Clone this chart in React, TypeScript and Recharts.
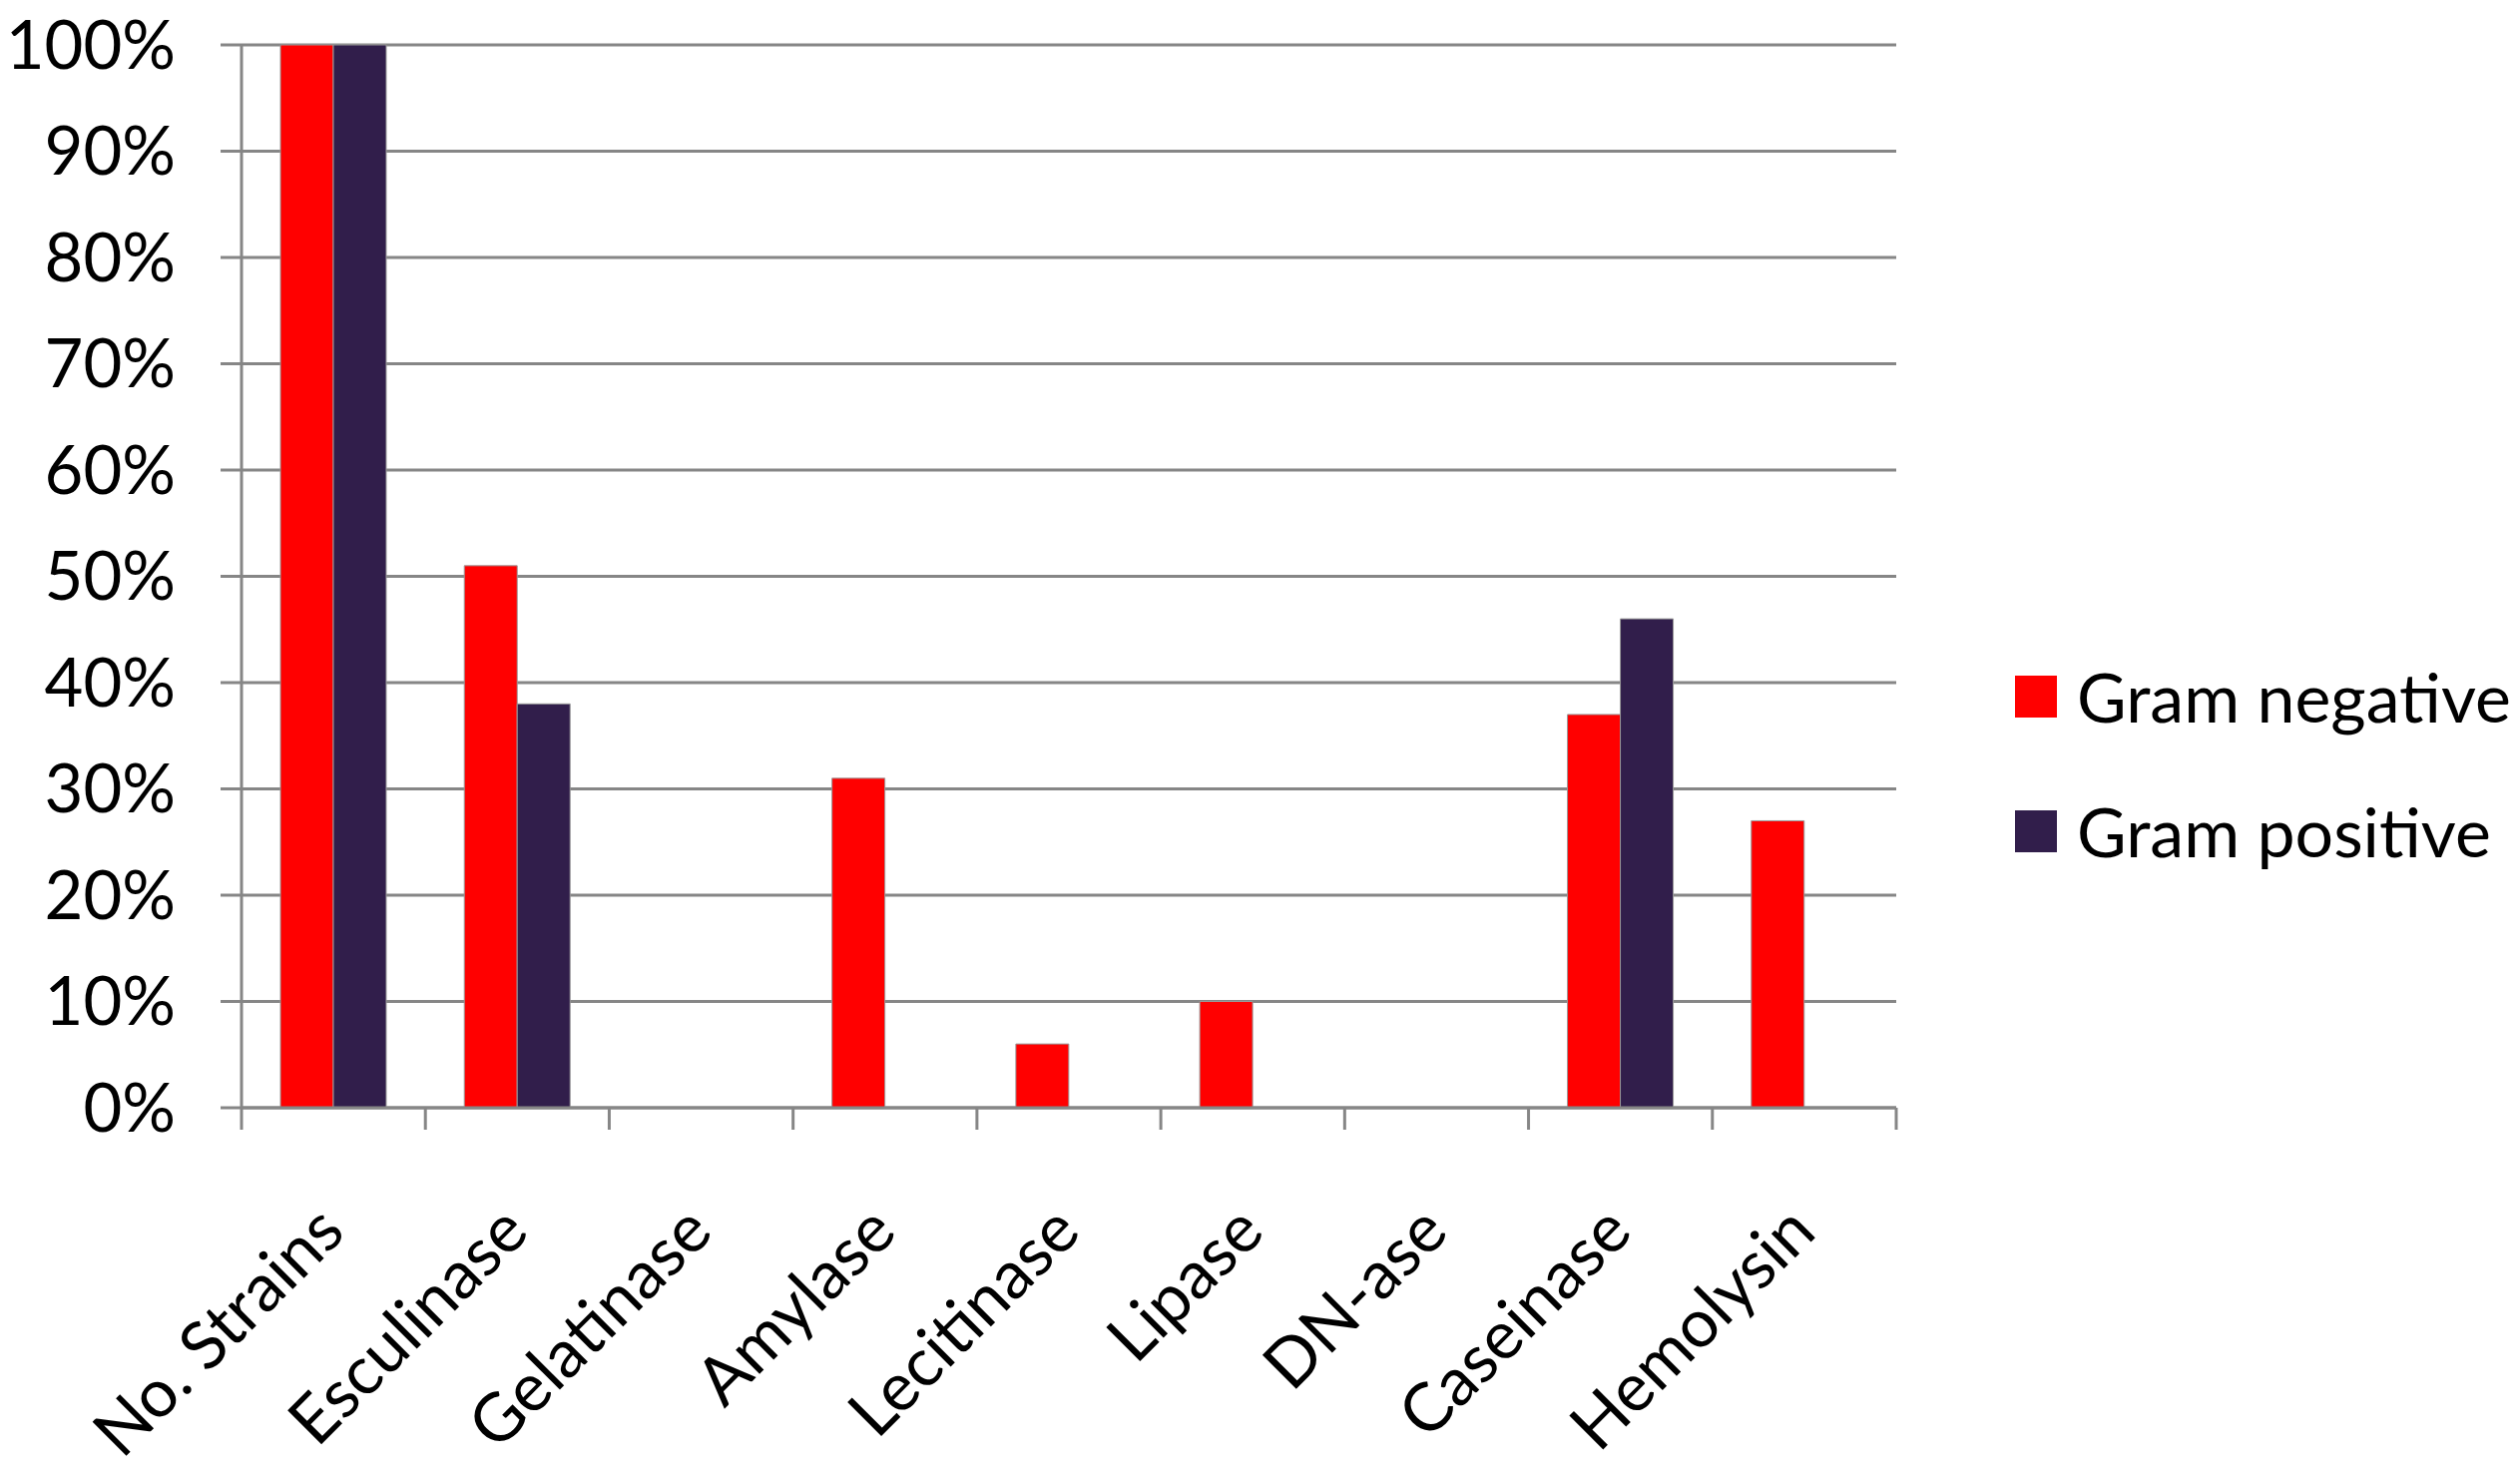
import { BarChart, Bar, XAxis, YAxis, CartesianGrid, Legend } from 'recharts';

const categories = [
  'No. Strains',
  'Esculinase',
  'Gelatinase',
  'Amylase',
  'Lecitinase',
  'Lipase',
  'DN-ase',
  'Caseinase',
  'Hemolysin',
];
const gramNegative = [100, 51, 0, 31, 6, 10, 0, 37, 27];
const gramPositive = [100, 38, 0, 0, 0, 0, 0, 46, 0];
const yTicks = [0, 10, 20, 30, 40, 50, 60, 70, 80, 90, 100];

const data = categories.map((name, i) => ({
  name,
  negative: gramNegative[i],
  positive: gramPositive[i],
}));

const W = 2525;
const H = 1480;
const MARGIN = { top: 45, right: 625, bottom: 0, left: 0 };
const Y_AXIS_W = 242;
const X_AXIS_H = 370;
const HALF_BAND = (W - MARGIN.right - MARGIN.left - Y_AXIS_W) / categories.length / 2;

const FONT = 'Lato, "Open Sans", sans-serif';
const FONT_SIZE = 67;
const GRAY = '#868686';

const CategoryTick = (props: any) => {
  const { x, y, payload, index } = props;
  const last = index === categories.length - 1;
  return (
    <g>
      <line x1={x - HALF_BAND} y1={y} x2={x - HALF_BAND} y2={y + 22} stroke={GRAY} strokeWidth={3} />
      {last && <line x1={x + HALF_BAND} y1={y} x2={x + HALF_BAND} y2={y + 22} stroke={GRAY} strokeWidth={3} />}
      <text
        x={x + 14}
        y={y + 127}
        textAnchor="end"
        transform={`rotate(-45, ${x + 14}, ${y + 127})`}
        fill="#000"
        fontSize={FONT_SIZE}
        fontFamily={FONT}
      >
        {payload.value}
      </text>
    </g>
  );
};

const renderLegend = (props: any) => {
  const { payload } = props;
  return (
    <div style={{ width: 500 }}>
      {payload.map((entry: any) => (
        <div key={entry.value} style={{ display: 'flex', alignItems: 'center', height: 135 }}>
          <div style={{ width: 42, height: 42, flexShrink: 0, background: entry.color, marginRight: 20 }} />
          <span style={{ fontFamily: FONT, fontSize: 68, lineHeight: 1, color: '#000', whiteSpace: 'nowrap' }}>
            {entry.value}
          </span>
        </div>
      ))}
    </div>
  );
};

export default function App() {
  return (
    <div style={{ position: 'absolute', left: 0, top: 0, width: W, height: H, background: '#fff' }}>
      <BarChart width={W} height={H} data={data} margin={MARGIN} barGap={0}>
        <CartesianGrid horizontal vertical={false} stroke={GRAY} strokeWidth={3} />
        <XAxis
          dataKey="name"
          height={X_AXIS_H}
          interval={0}
          tickSize={0}
          tickMargin={0}
          tickLine={false}
          axisLine={{ stroke: GRAY, strokeWidth: 3 }}
          tick={<CategoryTick />}
        />
        <YAxis
          width={Y_AXIS_W}
          domain={[0, 100]}
          ticks={yTicks}
          interval={0}
          tickSize={21}
          tickMargin={45}
          tickFormatter={(v: number) => `${v}%`}
          axisLine={{ stroke: GRAY, strokeWidth: 3 }}
          tickLine={{ stroke: GRAY, strokeWidth: 3 }}
          tick={{ fill: '#000', fontSize: FONT_SIZE, fontFamily: FONT }}
        />
        <Legend
          content={renderLegend}
          wrapperStyle={{ position: 'absolute', left: 2019, top: 630, width: 0, height: 0, overflow: 'visible' }}
        />
        <Bar
          dataKey="negative"
          name="Gram negative"
          fill="#FF0000"
          stroke="#9a9a9a"
          strokeWidth={1}
          barSize={53}
          isAnimationActive={false}
        />
        <Bar
          dataKey="positive"
          name="Gram positive"
          fill="#311E4B"
          stroke="#9a9a9a"
          strokeWidth={1}
          barSize={53}
          isAnimationActive={false}
        />
      </BarChart>
    </div>
  );
}
